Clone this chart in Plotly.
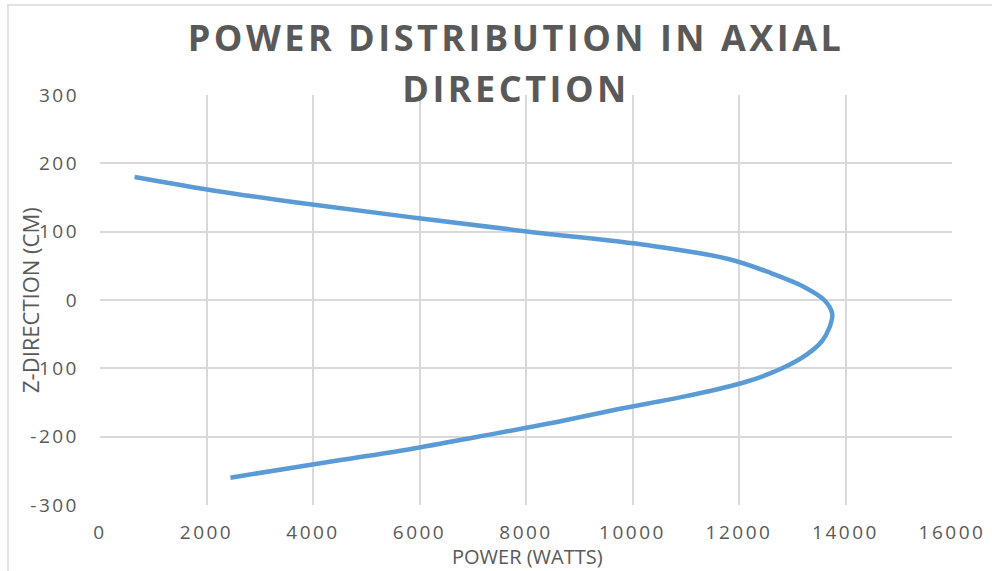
import plotly.graph_objects as go

# Axial power profile: power (W) against axial position z (cm)
z_cm = [180, 160, 140, 120, 100, 80, 60, 40, 20, 0, -20, -40, -60, -80,
        -100, -120, -140, -160, -180, -200, -220, -240, -260]
power_w = [650, 2150, 3950, 5950, 8050, 10300, 11800, 12580, 13200, 13600,
           13750, 13700, 13560, 13270, 12810, 12120, 11050, 9720, 8480,
           7100, 5700, 4050, 2450]

x_ticks = [0, 2000, 4000, 6000, 8000, 10000, 12000, 14000, 16000]
y_ticks = [-300, -200, -100, 0, 100, 200, 300]

title_lines = ["POWER DISTRIBUTION IN AXIAL", "DIRECTION"]
x_title = "POWER (WATTS)"
y_title = "Z-DIRECTION (CM)"

TEXT = "#595959"
GRID = "#D9D9D9"
FONT = "Open Sans"

fig = go.Figure()
fig.add_trace(go.Scatter(
    x=power_w, y=z_cm, mode="lines",
    line=dict(color="#5B9BD5", width=4.5, shape="spline", smoothing=1.0),
    hoverinfo="x+y", showlegend=False,
))

# plotting area in px, used to place text outside it
L, R, T, B = 100, 40, 95, 66
W, H = 992, 571
pw, ph = W - L - R, H - T - B

def px_x(px):
    return (px - L) / pw

def px_y(py):
    return (H - B - py) / ph

for line, cy in zip(title_lines, [37, 88]):
    fig.add_annotation(
        text=f"<b>{line}</b>", x=px_x(516), y=px_y(cy), xref="paper", yref="paper",
        showarrow=False, xanchor="center", yanchor="middle",
        font=dict(family=FONT, size=36, color=TEXT),
    )

fig.add_annotation(
    text=y_title, x=px_x(30), y=px_y(300), xref="paper", yref="paper",
    showarrow=False, textangle=-90, xanchor="center", yanchor="middle",
    font=dict(family=FONT, size=22, color=TEXT),
)
fig.add_annotation(
    text=x_title, x=px_x(527), y=px_y(556), xref="paper", yref="paper",
    showarrow=False, xanchor="center", yanchor="middle",
    font=dict(family=FONT, size=20, color=TEXT),
)

# light chart frame
fig.add_shape(type="rect", xref="paper", yref="paper",
              x0=px_x(8), x1=px_x(1100), y0=px_y(700), y1=px_y(5),
              line=dict(color=GRID, width=1.5), fillcolor="rgba(0,0,0,0)",
              layer="below")

fig.update_xaxes(
    range=[0, 16000], tickvals=x_ticks, ticktext=[str(v) for v in x_ticks],
    showgrid=True, gridcolor=GRID, gridwidth=1.5, zeroline=False,
    showline=False, ticks="", ticklabelstandoff=14,
    tickfont=dict(family=FONT, size=19, color=TEXT),
)
fig.update_yaxes(
    range=[-300, 300], tickvals=y_ticks, ticktext=[str(v) for v in y_ticks],
    showgrid=True, gridcolor=GRID, gridwidth=1.5, zeroline=False,
    showline=False, ticks="", ticklabelstandoff=20,
    tickfont=dict(family=FONT, size=19, color=TEXT),
)

fig.update_layout(
    width=W, height=H,
    margin=dict(l=L, r=R, t=T, b=B),
    paper_bgcolor="white", plot_bgcolor="white",
)

spacing_js = """
var gd = document.getElementById('{plot_id}');
var heads = %s;
gd.querySelectorAll('.annotation-text').forEach(function(el){
  if (heads.indexOf(el.textContent.trim()) !== -1) {
    el.style.letterSpacing = '3.5px';
  }
});
gd.querySelectorAll('.xtick text, .ytick text').forEach(function(el){
  el.style.letterSpacing = '2.5px';
});
""" % str(title_lines).replace("'", '"')

fig.write_html("out.html", post_script=spacing_js)
